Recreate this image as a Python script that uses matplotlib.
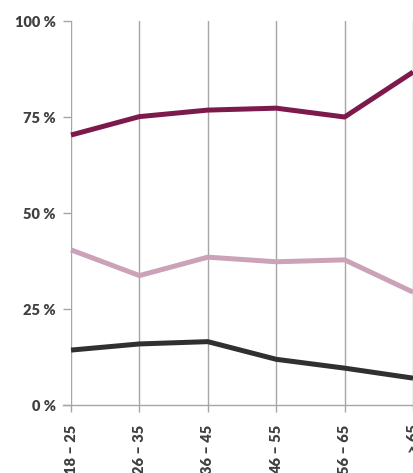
import matplotlib
matplotlib.use("Agg")
import matplotlib.pyplot as plt

plt.rcParams['font.family'] = ['Lato', 'DejaVu Sans']

# data
age_groups = ['18 \u2013 25', '26 \u2013 35', '36 \u2013 45', '46 \u2013 55', '56 \u2013 65', '> 65']
series_top = [70.3, 75.1, 76.8, 77.3, 75.0, 86.7]
series_mid = [40.4, 33.7, 38.5, 37.3, 37.8, 29.4]
series_low = [14.3, 15.9, 16.5, 11.9, 9.6, 7.0]
y_ticks = [0, 25, 50, 75, 100]
y_labels = ['0 %', '25 %', '50 %', '75 %', '100 %']

fig = plt.figure(figsize=(4.13, 4.73), dpi=100)
ax = fig.add_axes([71 / 413, 68 / 473, 342 / 413, 384 / 473])

x = list(range(len(age_groups)))
grey = '#a6a6a6'
for xi in x:
    ax.axvline(xi, color=grey, lw=1, zorder=1)

ax.plot(x, series_top, color='#7d1a4c', lw=3.6, solid_capstyle='butt', clip_on=False, zorder=3)
ax.plot(x, series_mid, color='#cba2b8', lw=3.6, solid_capstyle='butt', clip_on=False, zorder=3)
ax.plot(x, series_low, color='#303030', lw=3.6, solid_capstyle='butt', clip_on=False, zorder=3)

ax.set_xlim(0, 5)
ax.set_ylim(0, 100)
for s in ['top', 'right', 'left']:
    ax.spines[s].set_visible(False)
ax.spines['bottom'].set_color(grey)
ax.spines['bottom'].set_linewidth(1)
ax.spines['bottom'].set_bounds(-0.12, 5)

ax.set_yticks(y_ticks)
ax.set_yticklabels(y_labels, fontsize=10.5, fontweight='heavy', color='#404040')
ax.set_xticks(x)
ax.set_xticklabels(age_groups, rotation=90, fontsize=10.5, fontweight='heavy', color='#404040', va='top')
ax.tick_params(axis='y', length=6, width=1, color=grey, pad=5)
ax.tick_params(axis='x', length=5, width=1, color=grey, pad=9)

fig.savefig('out.png', dpi=100)
